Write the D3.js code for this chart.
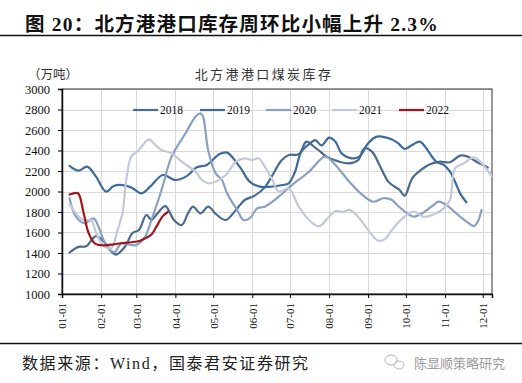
<!DOCTYPE html>
<html><head><meta charset="utf-8">
<script src="https://cdn.jsdelivr.net/npm/d3@7"></script>
<style>body{margin:0;background:#fff}svg{display:block}</style>
</head><body><svg id="c" width="522" height="383"></svg>
<script>
// ---- data ----
const seriesNames = ["2018","2019","2020","2021","2022"];
const seriesColors = ["#4b6b90","#3e6a9c","#8aa0c2","#c3c9d8","#a3141c"];

const s2018 = [["01-07",1405],["01-14",1460],["01-20",1465],["01-28",1565],["02-04",1500],["02-08",1430],["02-13",1385],["02-20",1462],["02-26",1595],["03-03",1624],["03-09",1771],["03-13",1722],["03-18",1790],["03-24",1858],["03-31",1720],["04-06",1673],["04-11",1787],["04-15",1852],["04-21",1787],["04-27",1852],["05-04",1771],["05-11",1722],["05-19",1819],["05-26",1917],["06-03",1960],["06-11",2040],["06-18",2180],["06-24",2300],["06-30",2356],["07-08",2363],["07-14",2486],["07-20",2437],["07-24",2400],["07-30",2340],["08-09",2291],["08-17",2275],["08-24",2305],["08-29",2421],["09-04",2389],["09-10",2259],["09-17",2096],["09-22",2047],["09-26",2015],["09-30",1959],["10-06",2129],["10-13",2210],["10-20",2265],["10-28",2291],["11-05",2285],["11-13",2350],["11-19",2340],["11-26",2291],["12-01",2259],["12-05",2235]];

const s2019 = [["01-07",2249],["01-14",2203],["01-21",2242],["01-28",2145],["02-05",1998],["02-11",2054],["02-18",2063],["02-25",2040],["03-05",1982],["03-12",2047],["03-22",2161],["04-01",2112],["04-10",2150],["04-18",2236],["04-26",2259],["05-06",2366],["05-12",2379],["05-22",2242],["05-30",2096],["06-07",2047],["06-14",2045],["06-25",2063],["06-30",2080],["07-05",2193],["07-10",2388],["07-17",2470],["07-21",2502],["07-26",2450],["08-01",2525],["08-06",2486],["08-11",2372],["08-19",2324],["08-25",2340],["09-01",2470],["09-08",2535],["09-19",2512],["09-25",2470],["09-30",2415],["10-06",2454],["10-12",2486],["10-19",2389],["10-25",2291],["10-31",2259],["11-05",2193],["11-09",2096],["11-13",1982],["11-18",1895]];

const s2020 = [["01-07",1934],["01-12",1754],["01-19",1689],["01-26",1738],["01-30",1657],["02-03",1527],["02-08",1430],["02-12",1410],["02-17",1494],["02-24",1480],["03-01",1478],["03-08",1560],["03-13",1722],["03-21",2015],["03-29",2340],["04-09",2568],["04-17",2730],["04-21",2763],["04-23",2730],["04-27",2405],["05-03",2177],["05-08",2112],["05-12",1982],["05-20",1820],["05-25",1722],["05-30",1738],["06-05",1836],["06-11",1852],["06-22",1949],["07-01",2047],["07-16",2193],["07-29",2340],["08-06",2259],["08-17",2096],["08-26",1982],["09-05",1900],["09-13",1934],["09-20",1917],["09-24",1868],["10-02",1787],["10-07",1754],["10-14",1787],["10-23",1869],["10-27",1901],["11-04",1850],["11-12",1765],["11-20",1690],["11-24",1663],["11-27",1705],["11-30",1820]];

const s2021 = [["01-07",1880],["01-12",1787],["01-18",1720],["01-24",1720],["01-28",1600],["02-03",1470],["02-09",1450],["02-14",1620],["02-18",1787],["02-21",2112],["02-25",2340],["03-03",2405],["03-11",2509],["03-16",2454],["03-21",2405],["03-29",2372],["04-06",2291],["04-17",2193],["04-22",2112],["04-27",2080],["05-03",2096],["05-11",2161],["05-19",2291],["05-26",2324],["06-01",2307],["06-06",2324],["06-11",2242],["06-17",2112],["06-22",2000],["06-30",2030],["07-08",1850],["07-18",1700],["07-24",1660],["08-01",1754],["08-06",1810],["08-12",1800],["08-17",1820],["08-24",1754],["08-31",1640],["09-09",1520],["09-14",1533],["09-22",1657],["09-30",1754],["10-07",1804],["10-15",1754],["10-22",1771],["10-31",1836],["11-05",1917],["11-09",2226],["11-16",2275],["11-24",2333],["11-29",2291],["12-08",2150]];

const s2022 = [["01-07",1970],["01-11",1985],["01-14",1980],["01-18",1800],["01-22",1600],["01-27",1495],["02-03",1475],["02-11",1485],["02-17",1495],["02-25",1505],["03-04",1520],["03-09",1550],["03-13",1580],["03-18",1680],["03-22",1760],["03-26",1800]];

const allSeries = [s2018, s2019, s2020, s2021, s2022];
const yTicks = [1000,1200,1400,1600,1800,2000,2200,2400,2600,2800,3000];
const xTickLabels = ["01-01","02-01","03-01","04-01","05-01","06-01","07-01","08-01","09-01","10-01","11-01","12-01"];

// ---- drawing ----
const svg = d3.select("#c");
const W = 522, H = 383;
const L = 62, R = 492, T = 89, B = 294;
const parse = s => new Date(2021, +s.slice(0,2) - 1, +s.slice(3,5));
const x = d3.scaleTime().domain([new Date(2021,0,1), new Date(2021,11,8,8)]).range([L, R]);
const y = d3.scaleLinear().domain([1000, 3000]).range([B, T]);
const tickDates = xTickLabels.map(parse);

svg.append("rect").attr("width", W).attr("height", H).attr("fill", "#fff");

// title
svg.append("text").attr("x", 25).attr("y", 31)
  .attr("font-family", "'Liberation Serif','Noto Sans CJK SC',serif")
  .attr("font-weight", "bold").attr("font-size", 19.5).attr("letter-spacing", 1.2)
  .attr("fill", "#111")
  .text("图 20：北方港港口库存周环比小幅上升 2.3%");
svg.append("line").attr("x1", 0).attr("x2", W).attr("y1", 35.5).attr("y2", 35.5)
  .attr("stroke", "#111").attr("stroke-width", 1.5);

// chart title & unit
svg.append("text").attr("x", 264).attr("y", 79).attr("text-anchor", "middle")
  .attr("font-family", "'Noto Sans CJK SC',sans-serif").attr("font-size", 13)
  .attr("letter-spacing", 2.4).attr("fill", "#333").text("北方港港口煤炭库存");
svg.append("text").attr("x", 28).attr("y", 79)
  .attr("font-family", "'Noto Sans CJK SC',sans-serif").attr("font-size", 12.5)
  .attr("fill", "#333").text("（万吨）");

// grid
const grid = svg.append("g").attr("stroke", "#d9d9d9").attr("stroke-width", 1);
grid.selectAll(".h").data(yTicks).join("line")
  .attr("x1", L).attr("x2", R).attr("y1", d => Math.round(y(d)) + 0.5).attr("y2", d => Math.round(y(d)) + 0.5);
grid.selectAll(".v").data(tickDates).join("line")
  .attr("y1", T).attr("y2", B).attr("x1", d => Math.round(x(d)) + 0.5).attr("x2", d => Math.round(x(d)) + 0.5);

// frame
svg.append("rect").attr("x", L).attr("y", T).attr("width", R - L).attr("height", B - T)
  .attr("fill", "none").attr("stroke", "#333").attr("stroke-width", 1);

// axes
const yAxis = svg.append("g").attr("transform", `translate(${L},0)`)
  .call(d3.axisLeft(y).tickValues(yTicks).tickSize(4).tickPadding(8).tickFormat(d3.format("d")));
yAxis.selectAll("text").attr("font-family", "'Liberation Serif',serif").attr("font-size", 12.5).attr("fill", "#111");
yAxis.select(".domain").attr("stroke", "#111").attr("stroke-width", 1.5);

const xAxis = svg.append("g").attr("transform", `translate(0,${B})`)
  .call(d3.axisBottom(x).tickValues(tickDates).tickSize(4).tickFormat((d, i) => xTickLabels[i]));
xAxis.selectAll("text").attr("font-family", "'Liberation Serif',serif").attr("font-size", 11).attr("fill", "#111")
  .attr("transform", "rotate(-90)").attr("text-anchor", "end").attr("x", -9).attr("y", 0).attr("dy", "0.35em");
xAxis.select(".domain").attr("stroke", "#111").attr("stroke-width", 1.5);

// lines
const line = d3.line().x(d => x(parse(d[0]))).y(d => y(d[1])).curve(d3.curveCatmullRom.alpha(0.5));
svg.append("g").selectAll("path").data(allSeries).join("path")
  .attr("d", d => line(d)).attr("fill", "none")
  .attr("stroke", (d, i) => seriesColors[i]).attr("stroke-width", 2.2)
  .attr("stroke-linejoin", "round").attr("stroke-linecap", "round");

// legend
const legX = [133, 200, 266, 332, 399];
const leg = svg.append("g").selectAll("g").data(seriesNames).join("g")
  .attr("transform", (d, i) => `translate(${legX[i]},110)`);
leg.append("line").attr("x1", 0).attr("x2", 25).attr("y1", 0).attr("y2", 0)
  .attr("stroke", (d, i) => seriesColors[i]).attr("stroke-width", 2.2);
leg.append("text").attr("x", 27).attr("y", 4).attr("font-family", "'Liberation Serif',serif")
  .attr("font-size", 11.5).attr("fill", "#111").text(d => d);

// footer
svg.append("line").attr("x1", 0).attr("x2", W).attr("y1", 343.5).attr("y2", 343.5)
  .attr("stroke", "#111").attr("stroke-width", 1.5);
svg.append("text").attr("x", 22).attr("y", 369)
  .attr("font-family", "'Liberation Serif','Noto Sans CJK SC',serif").attr("font-size", 16)
  .attr("letter-spacing", 1.6).attr("fill", "#222").text("数据来源：Wind，国泰君安证券研究");
// watermark icon
const ic = svg.append("g").attr("fill", "none").attr("stroke", "#b5b5b5").attr("stroke-width", 1);
ic.append("ellipse").attr("cx", 391).attr("cy", 360).attr("rx", 6).attr("ry", 5);
ic.append("ellipse").attr("cx", 399).attr("cy", 365).attr("rx", 5).attr("ry", 4);
svg.append("text").attr("x", 414).attr("y", 368)
  .attr("font-family", "'Noto Sans CJK SC',sans-serif").attr("font-size", 13)
  .attr("fill", "#9a9a9a").text("陈显顺策略研究");
</script></body></html>
